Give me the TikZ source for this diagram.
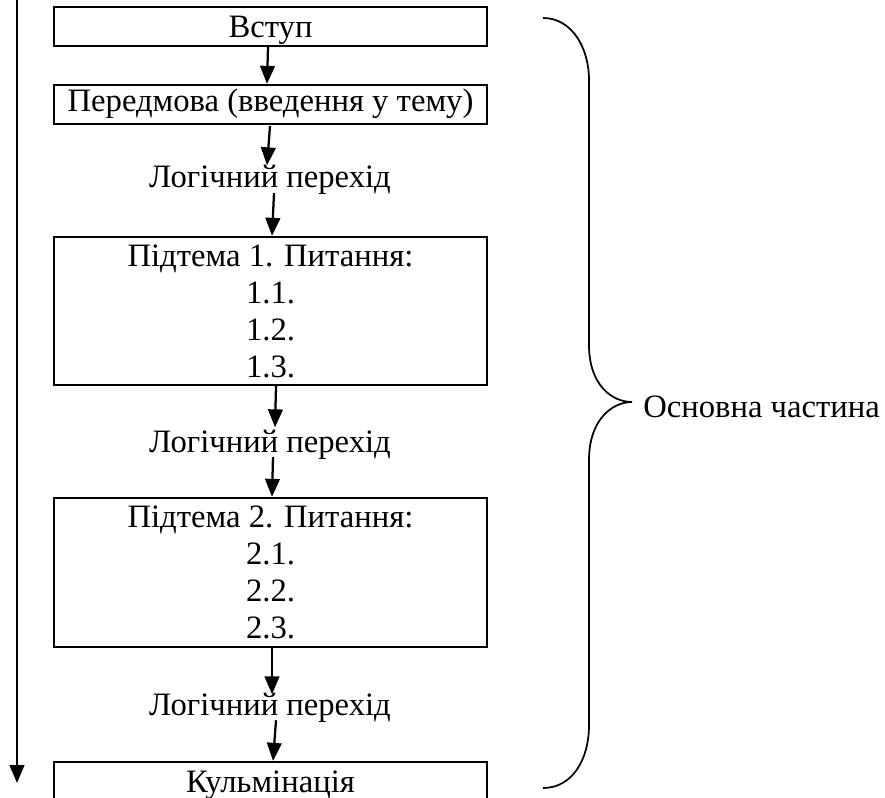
\documentclass[tikz,border=0pt]{standalone}
\usepackage{fontspec}
\setmainfont{Liberation Serif}
\usetikzlibrary{arrows.meta,calc}
\begin{document}
\begin{tikzpicture}[x=0.75pt,y=-0.75pt,
  every node/.style={font=\fontsize{24.5}{27.75}\selectfont, inner sep=0pt},
  box/.style={draw, line width=1.7pt, minimum width=324.75pt},
  arr/.style={line width=1.7pt, -{Triangle[length=13.5pt,width=11pt]}},
  bracestyle/.style={line width=1.3pt}
]
\useasboundingbox (0,0) rectangle (885,798);

% boxes
\node[box, anchor=base, text height=23.25pt, text depth=6pt] (b1) at (270.5,38) {Вступ};
\node[box, anchor=base, text height=20.25pt, text depth=9pt] (b2) at (270.5,112) {Передмова (введення у тему)};
\node[box, minimum height=111pt, align=center] (b3) at (270.5,311) {Підтема 1. Питання:\\1.1.\\1.2.\\1.3.};
\node[box, minimum height=111.75pt, align=center] (b4) at (270.5,572.5) {Підтема 2. Питання:\\2.1.\\2.2.\\2.3.};
\node[box, anchor=base, text height=22.5pt, text depth=9pt] (b5) at (270.5,792) {Кульмінація};

% transitions
\node[anchor=base] (t1) at (270,188) {Логічний перехід};
\node[anchor=base] (t2) at (270,452) {Логічний перехід};
\node[anchor=base] (t3) at (270,715) {Логічний перехід};

% arrows
\draw[arr] ($(b1.south)+(-2.5,0)$) -- ($(b2.north)+(-3.5,0)$);
\draw[arr] ($(b2.south)+(-0.5,1)$) -- ($(t1.north)+(-3,0)$);
\draw[arr] ($(t1.south)+(4,-2)$) -- ($(b3.north)+(1.5,0)$);
\draw[arr] ($(b3.south)+(5.5,0)$) -- ($(t2.north)+(5,-2)$);
\draw[arr] ($(t2.south)+(3,-2)$) -- ($(b4.north)+(1.5,0)$);
\draw[arr] ($(b4.south)+(1.5,0)$) -- ($(t3.north)+(2,2)$);
\draw[arr] ($(t3.south)+(6,-2)$) -- ($(b5.north)+(2.5,0)$);

% left arrow
\coordinate (ltop) at (17,-2);
\coordinate (lbot) at (17,783);
\draw[arr] (ltop) -- (lbot);

% brace
\draw[bracestyle] (543,18) .. controls (572,18) and (589,48) .. (589,80) -- (589,345)
  .. controls (589,385) and (612,402) .. (632,402)
  .. controls (612,402) and (589,420) .. (589,460) -- (589,725)
  .. controls (589,760) and (572,788) .. (543,788);
\node[anchor=base west] (lab) at (643,417) {Основна частина};
\end{tikzpicture}
\end{document}
